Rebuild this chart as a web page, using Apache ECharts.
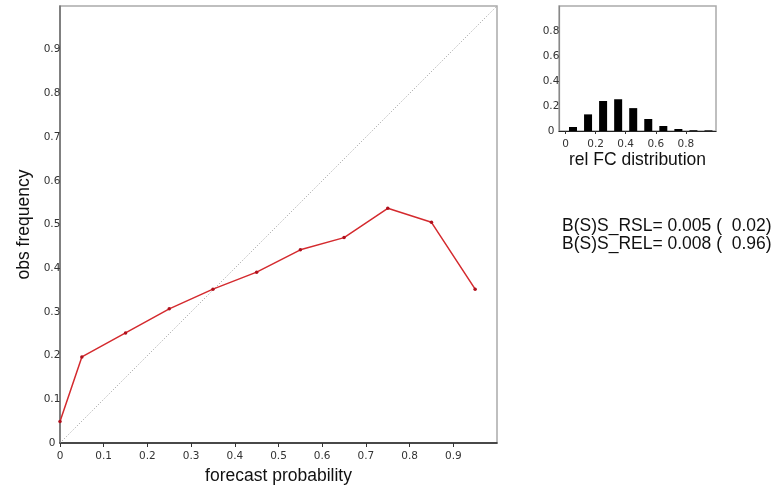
<!DOCTYPE html>
<html>
<head>
<meta charset="utf-8">
<script src="https://cdn.jsdelivr.net/npm/echarts@6/dist/echarts.min.js"></script>
<style>
  html, body { margin: 0; padding: 0; background: #fff; }
  #chart { width: 775px; height: 485px; }
</style>
</head>
<body>
<div id="chart"></div>
<script>
// reliability curve
const fcProb = [0, 0.05, 0.15, 0.25, 0.35, 0.45, 0.55, 0.65, 0.75, 0.85, 0.95];
const obsFreq = [0.049, 0.197, 0.252, 0.307, 0.352, 0.391, 0.442, 0.470, 0.537, 0.505, 0.352];
const diagLine = [0, 1];

// forecast distribution (inset)
const binCenters = [0.05, 0.15, 0.25, 0.35, 0.45, 0.55, 0.65, 0.75, 0.85, 0.95];
const binFreq = [0.032, 0.133, 0.240, 0.254, 0.183, 0.096, 0.040, 0.016, 0.006, 0.005];

// tick labels
const mainTicks = [0, 0.1, 0.2, 0.3, 0.4, 0.5, 0.6, 0.7, 0.8, 0.9];
const insetTicks = [0, 0.2, 0.4, 0.6, 0.8];

const statLines = ['B(S)S_RSL= 0.005 (  0.02)', 'B(S)S_REL= 0.008 (  0.96)'];

const titleFont = 'Liberation Sans, Arial, sans-serif';
const tickFont = { fontFamily: 'DejaVu Sans', fontSize: 10.5, color: '#333' };

const chart = echarts.init(document.getElementById('chart'));

chart.setOption({
  animation: false,
  grid: [
    { left: 60, top: 6, width: 437, height: 437, show: true, borderColor: '#aaa', borderWidth: 1.5, outerBoundsMode: 'none' },
    { left: 559, top: 6, width: 157, height: 125, show: true, borderColor: '#aaa', borderWidth: 1.5, outerBoundsMode: 'none' }
  ],
  xAxis: [
    {
      gridIndex: 0, type: 'value', min: 0, max: 1,
      name: 'forecast probability', nameLocation: 'middle', nameGap: 17,
      nameTextStyle: { fontFamily: titleFont, fontSize: 17.5, color: '#111' },
      axisLine: { lineStyle: { color: '#222', width: 1.5 } },
      axisTick: { show: true, length: 4, customValues: mainTicks, lineStyle: { color: '#333' } },
      axisLabel: Object.assign({ customValues: mainTicks, margin: 8 }, tickFont),
      splitLine: { show: false }
    },
    {
      gridIndex: 1, type: 'value', min: -0.043, max: 1,
      name: 'rel FC distribution', nameLocation: 'middle', nameGap: 18,
      nameTextStyle: { fontFamily: titleFont, fontSize: 17.5, color: '#111' },
      axisLine: { onZero: false, lineStyle: { color: '#222', width: 1.2 } },
      axisTick: { show: true, length: 3, customValues: insetTicks, lineStyle: { color: '#333' } },
      axisLabel: Object.assign({ customValues: insetTicks, margin: 8 }, tickFont),
      splitLine: { show: false }
    }
  ],
  yAxis: [
    {
      gridIndex: 0, type: 'value', min: 0, max: 1,
      name: 'obs frequency', nameLocation: 'middle', nameGap: 25, nameRotate: 90,
      nameTextStyle: { fontFamily: titleFont, fontSize: 17.5, color: '#111' },
      axisLine: { show: true, onZero: false, lineStyle: { color: '#6b6b6b', width: 1.5 } },
      axisTick: { show: false },
      axisLabel: Object.assign({ customValues: mainTicks, margin: 8, align: 'center' }, tickFont),
      splitLine: { show: false }
    },
    {
      gridIndex: 1, type: 'value', min: 0, max: 1,
      axisLine: { show: true, onZero: false, lineStyle: { color: '#888', width: 1.2 } },
      axisTick: { show: false },
      axisLabel: Object.assign({ customValues: insetTicks, margin: 8, align: 'center' }, tickFont),
      splitLine: { show: false }
    }
  ],
  series: [
    {
      type: 'line', xAxisIndex: 0, yAxisIndex: 0,
      data: diagLine.map((v, i) => [v, diagLine[i]]),
      symbol: 'none', silent: true,
      lineStyle: { color: '#999', width: 1, type: [1, 2] }
    },
    {
      type: 'line', xAxisIndex: 0, yAxisIndex: 0,
      data: fcProb.map((x, i) => [x, obsFreq[i]]),
      symbol: 'circle', symbolSize: 3.5,
      itemStyle: { color: '#b0101c' },
      lineStyle: { color: '#d42a2e', width: 1.5 },
      z: 3
    },
    {
      type: 'bar', xAxisIndex: 1, yAxisIndex: 1,
      data: binCenters.map((x, i) => [x, binFreq[i]]),
      barWidth: 8,
      itemStyle: { color: '#000' }
    }
  ],
  graphic: statLines.map((t, i) => ({
    type: 'text', left: 562, top: 217 + i * 18,
    style: { text: t, font: '17.5px ' + titleFont, fill: '#111' }
  }))
});
</script>
</body>
</html>
